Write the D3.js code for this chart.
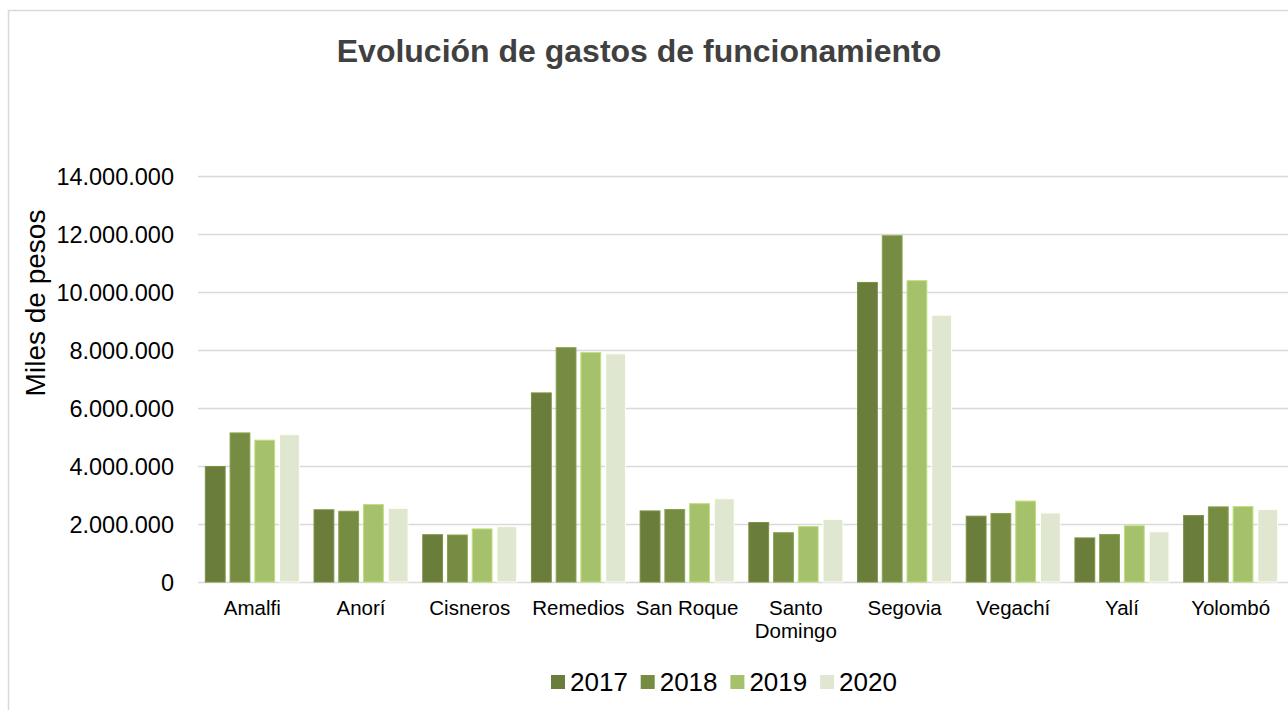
<!doctype HTML>
<meta charset="utf-8">
<title>Evolución de gastos de funcionamiento</title>

<style>
body {
  margin: 0px;
  background: #fff;
}
svg {
  display: block;
  font-family: "Liberation Sans", Arial, sans-serif;
}
.grid line {
  stroke: #d9d9d9;
  stroke-width: 1.5;
}
.grid .domain {
  display: none;
}
.yaxis text {
  font-size: 23.5px;
  fill: #000;
}
.xlabel {
  font-size: 20.5px;
  fill: #000;
}
.legend text {
  font-size: 26px;
  fill: #000;
}
</style>

<script src="https://d3js.org/d3.v7.min.js"></script>

<body>
<script>
var width = 1288, height = 710;

// datos (miles de pesos)
var municipios = ["Amalfi", "Anorí", "Cisneros", "Remedios", "San Roque", "Santo Domingo", "Segovia", "Vegachí", "Yalí", "Yolombó"];
var years = ["2017", "2018", "2019", "2020"];
var v2017 = [3980000, 2490000, 1630000, 6520000, 2450000, 2050000, 10330000, 2270000, 1520000, 2290000];
var v2018 = [5140000, 2440000, 1620000, 8080000, 2500000, 1700000, 11940000, 2360000, 1640000, 2590000];
var v2019 = [4890000, 2670000, 1830000, 7910000, 2700000, 1910000, 10390000, 2790000, 1940000, 2600000];
var v2020 = [5080000, 2540000, 1910000, 7870000, 2870000, 2160000, 9200000, 2380000, 1730000, 2500000];
var yTicks = [0, 2000000, 4000000, 6000000, 8000000, 10000000, 12000000, 14000000];
var colors = ["#6a7d3a", "#768c42", "#a5c16b", "#dfe7d1"];

var series = [v2017, v2018, v2019, v2020];

var svg = d3.select("body").append("svg")
    .attr("width", width)
    .attr("height", height);

// marco del grafico
svg.append("rect")
    .attr("x", 8.5).attr("y", 10.5)
    .attr("width", 1300).attr("height", 720)
    .attr("fill", "#fff")
    .attr("stroke", "#d9d9d9")
    .attr("stroke-width", 1.5);

var margin = {left: 198, right: 3, top: 176, bottom: 128};
var plotW = width - margin.left - margin.right;
var plotH = height - margin.top - margin.bottom;

var x = d3.scaleBand()
    .domain(municipios)
    .range([margin.left, margin.left + plotW])
    .paddingInner(0.135)
    .paddingOuter(0.0675);

var xInner = d3.scaleBand()
    .domain(years)
    .range([0, x.bandwidth()])
    .paddingInner(0.2);

var y = d3.scaleLinear()
    .domain([0, 14000000])
    .range([margin.top + plotH, margin.top]);

var fmt = function(d) { return d3.format(",")(d).replace(/,/g, "."); };

// lineas de cuadricula
svg.append("g")
    .attr("class", "grid")
    .attr("transform", "translate(" + margin.left + ",0)")
    .call(d3.axisRight(y).tickValues(yTicks).tickSize(plotW + 3).tickFormat(""));

svg.append("g")
    .attr("class", "yaxis")
    .attr("transform", "translate(" + (margin.left - 21) + ",0)")
    .call(d3.axisLeft(y).tickValues(yTicks).tickSize(0).tickFormat(fmt))
    .call(function(g) { g.select(".domain").remove(); })
    .selectAll("text").attr("dy", "0.36em");

// barras
var groups = svg.append("g").selectAll("g")
    .data(municipios)
  .enter().append("g")
    .attr("transform", function(d) { return "translate(" + x(d) + ",0)"; });

groups.selectAll("rect")
    .data(function(d, i) { return years.map(function(yr, j) { return {year: yr, value: series[j][i], j: j}; }); })
  .enter().append("rect")
    .attr("x", function(d) { return xInner(d.year); })
    .attr("y", function(d) { return y(d.value); })
    .attr("width", xInner.bandwidth())
    .attr("height", function(d) { return y(0) - y(d.value); })
    .attr("fill", function(d) { return colors[d.j]; })
    .attr("stroke", function(d) { return d3.color(colors[d.j]).brighter(0.4); })
    .attr("stroke-width", 1);

// etiquetas del eje x
var xl = svg.append("g").selectAll("text")
    .data(municipios)
  .enter().append("text")
    .attr("class", "xlabel")
    .attr("text-anchor", "middle")
    .attr("x", function(d) { return x(d) + x.bandwidth() / 2; })
    .attr("y", 615);

xl.each(function(d) {
  var parts = d == "Santo Domingo" ? ["Santo", "Domingo"] : [d];
  var t = d3.select(this);
  parts.forEach(function(p, i) {
    t.append("tspan")
      .attr("x", x(d) + x.bandwidth() / 2)
      .attr("dy", i == 0 ? 0 : 23)
      .text(p);
  });
});

// titulo
svg.append("text")
    .attr("x", 639)
    .attr("y", 62)
    .attr("text-anchor", "middle")
    .style("font-size", "32px")
    .style("font-weight", "bold")
    .style("fill", "#404040")
    .text("Evolución de gastos de funcionamiento");

svg.append("text")
    .attr("transform", "translate(45,303) rotate(-90)")
    .attr("text-anchor", "middle")
    .style("font-size", "28px")
    .style("fill", "#000")
    .text("Miles de pesos");

// leyenda
var legend = svg.append("g").attr("class", "legend");
var li = legend.selectAll("g")
    .data(years)
  .enter().append("g")
    .attr("transform", function(d, i) { return "translate(" + (551 + i * 89.7) + ",675)"; });
li.append("rect")
    .attr("width", 14).attr("height", 14)
    .attr("fill", function(d, i) { return colors[i]; });
li.append("text")
    .attr("x", 19)
    .attr("y", 16)
    .text(function(d) { return d; });
</script>
